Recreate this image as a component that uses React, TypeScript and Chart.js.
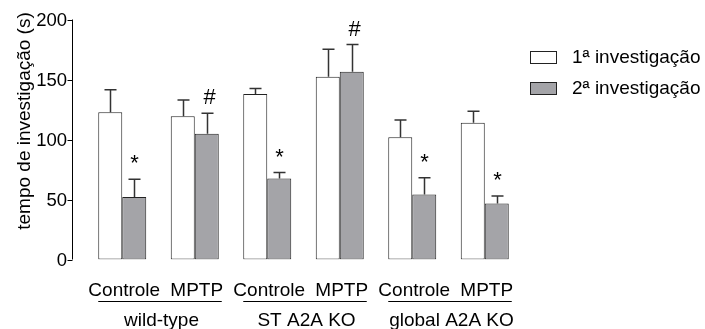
import React, { useEffect, useRef } from 'react';
import { Chart, registerables } from 'chart.js';

Chart.register(...registerables);

const categories = ['Controle', 'MPTP', 'Controle', 'MPTP', 'Controle', 'MPTP'];
const groups = ['wild-type', 'ST A2A KO', 'global A2A KO'];
const seriesLabels = ['1ª investigação', '2ª investigação'];
const first = [122.7, 119.3, 137.9, 152.3, 101.9, 113.9];
const firstErr = [18.8, 13.7, 4.7, 23.0, 14.4, 9.6];
const second = [52.1, 104.7, 67.4, 156.4, 54.1, 46.6];
const secondErr = [14.7, 17.1, 5.0, 22.7, 14.1, 6.3];
const firstMarks = ['', '', '', '', '', ''];
const secondMarks = ['*', '#', '*', '#', '*', '*'];
const yTicks = [0, 50, 100, 150, 200];
const yTitle = 'tempo de investigação (s)';

const FONT = '"Liberation Sans", Arial, sans-serif';
const WHITE = '#ffffff';
const GRAY = '#a4a4a8';
const EDGE = '#222222';

const errs = [firstErr, secondErr];
const marks = [firstMarks, secondMarks];
const fills = [WHITE, GRAY];

const overlay = {
  id: 'overlay',
  afterDatasetsDraw(chart: any) {
    const ctx = chart.ctx;
    const y = chart.scales.y;
    const x = chart.scales.x;
    ctx.save();
    // error bars and significance marks
    chart.data.datasets.forEach((ds: any, i: number) => {
      const meta = chart.getDatasetMeta(i);
      meta.data.forEach((bar: any, j: number) => {
        const v = ds.data[j];
        const e = errs[i][j];
        const cx = Math.round(bar.x) + 0.5;
        const yTop = y.getPixelForValue(v);
        const yErr = y.getPixelForValue(v + e);
        ctx.strokeStyle = '#333333';
        ctx.lineWidth = 1.5;
        ctx.beginPath();
        ctx.moveTo(cx, yTop);
        ctx.lineTo(cx, yErr);
        ctx.moveTo(cx - 6, yErr);
        ctx.lineTo(cx + 6, yErr);
        ctx.stroke();
        const m = marks[i][j];
        if (m) {
          ctx.fillStyle = '#000';
          ctx.font = `22px ${FONT}`;
          ctx.textAlign = 'center';
          ctx.textBaseline = 'alphabetic';
          ctx.fillText(m, cx + (m === '#' ? 2 : 0), yErr - 9);
        }
      });
    });
    // y axis line with ticks and tick labels
    const ax = 72.5;
    ctx.strokeStyle = '#000';
    ctx.lineWidth = 1;
    ctx.beginPath();
    ctx.moveTo(ax, y.getPixelForValue(yTicks[yTicks.length - 1]));
    ctx.lineTo(ax, y.getPixelForValue(yTicks[0]));
    yTicks.forEach((t) => {
      const py = Math.round(y.getPixelForValue(t)) + 0.5;
      ctx.moveTo(ax - 5, py);
      ctx.lineTo(ax, py);
    });
    ctx.stroke();
    ctx.fillStyle = '#000';
    ctx.font = `18.5px ${FONT}`;
    ctx.textAlign = 'right';
    ctx.textBaseline = 'middle';
    yTicks.forEach((t) => {
      ctx.fillText(String(t), 67, y.getPixelForValue(t) + 1);
    });
    // y title
    ctx.save();
    ctx.translate(30, 121);
    ctx.rotate(-Math.PI / 2);
    ctx.fillStyle = '#000';
    ctx.font = `19px ${FONT}`;
    ctx.textAlign = 'center';
    ctx.textBaseline = 'alphabetic';
    ctx.fillText(yTitle, 0, 0);
    ctx.restore();
    // group lines and labels
    groups.forEach((g, k) => {
      const c0 = x.getPixelForValue(k * 2);
      const c1 = x.getPixelForValue(k * 2 + 1);
      ctx.strokeStyle = '#000';
      ctx.lineWidth = 1;
      ctx.beginPath();
      ctx.moveTo(c0 - 24, 301.5);
      ctx.lineTo(c1 + 27, 301.5);
      ctx.stroke();
      ctx.fillStyle = '#000';
      ctx.font = `19px ${FONT}`;
      ctx.textAlign = 'center';
      ctx.textBaseline = 'alphabetic';
      ctx.fillText(g, (c0 + c1) / 2 + 3, 326);
    });
    // legend
    seriesLabels.forEach((lab, k) => {
      const cy = 58 + k * 31;
      ctx.fillStyle = fills[k];
      ctx.fillRect(530.5, cy - 6.5, 26, 12);
      ctx.strokeStyle = EDGE;
      ctx.lineWidth = 1;
      ctx.strokeRect(530.5, cy - 6.5, 26, 12);
      ctx.fillStyle = '#000';
      ctx.font = `19px ${FONT}`;
      ctx.textAlign = 'left';
      ctx.textBaseline = 'middle';
      ctx.fillText(lab, 572, cy);
    });
    ctx.restore();
  },
};

export default function App() {
  const ref = useRef<HTMLCanvasElement | null>(null);
  useEffect(() => {
    if (!ref.current) return;
    Chart.defaults.font.family = FONT;
    const chart = new Chart(ref.current, {
      type: 'bar',
      data: {
        labels: categories,
        datasets: [
          {
            label: seriesLabels[0],
            data: first,
            backgroundColor: WHITE,
            borderColor: EDGE,
            borderWidth: 1,
            borderSkipped: false,
            categoryPercentage: 0.662,
            barPercentage: 1,
          },
          {
            label: seriesLabels[1],
            data: second,
            backgroundColor: GRAY,
            borderColor: EDGE,
            borderWidth: 1,
            borderSkipped: false,
            categoryPercentage: 0.662,
            barPercentage: 1,
          },
        ],
      },
      options: {
        animation: false,
        responsive: false,
        maintainAspectRatio: false,
        layout: { padding: { left: 0, right: 184, top: 19.5, bottom: 0 } },
        plugins: { legend: { display: false }, tooltip: { enabled: false } },
        scales: {
          x: {
            grid: { display: false, drawTicks: false },
            border: { display: false },
            ticks: { color: '#000', font: { size: 19 }, padding: 20, labelOffset: 2, maxRotation: 0, autoSkip: false },
            afterFit: (s: any) => { s.height = 69.5; },
          },
          y: {
            min: 0,
            max: 200,
            grid: { display: false, drawTicks: false },
            border: { display: false },
            ticks: { display: false, stepSize: 50 },
            afterFit: (s: any) => { s.width = 86; },
          },
        },
      },
      plugins: [overlay],
    });
    return () => chart.destroy();
  }, []);
  return (
    <div style={{ position: 'fixed', left: 0, top: 0, width: 705, height: 329, background: '#fff' }}>
      <canvas ref={ref} width={705} height={329} style={{ width: 705, height: 329 }} />
    </div>
  );
}
